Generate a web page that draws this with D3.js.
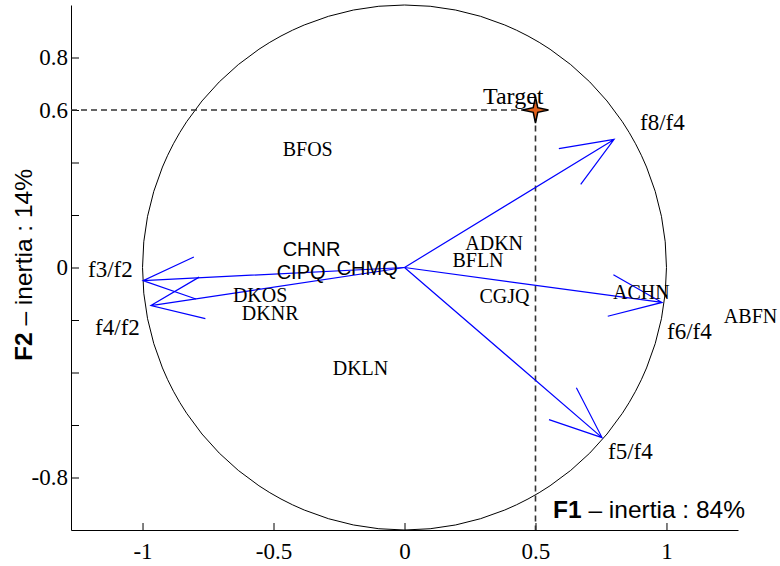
<!DOCTYPE html>
<html>
<head>
<meta charset="utf-8">
<script src="https://cdn.jsdelivr.net/npm/d3@7"></script>
<style>
  body { margin: 0; background: #fff; }
  svg { display: block; }
  .tick text { font-family: "Liberation Serif", "Times New Roman", serif; font-size: 23px; fill: #000; }
</style>
</head>
<body>
<script>
// variables of the correlation circle (arrow tips) and where their names sit
const varNames = ["f8/f4", "f6/f4", "f5/f4", "f3/f2", "f4/f2"];
const varF1 = [0.800, 0.983, 0.754, -0.998, -0.968];
const varF2 = [0.488, -0.133, -0.648, -0.050, -0.145];
const varLabelF1 = [0.899, 1.002, 0.777, -1.208, -1.181];
const varLabelF2 = [0.552, -0.244, -0.701, -0.008, -0.229];

// individuals, written as text
const indNames = ["BFOS", "CHNR", "CIPQ", "CHMQ", "DKOS", "DKNR", "DKLN", "ADKN", "BFLN", "CGJQ", "ACHN", "ABFN"];
const indF1 = [-0.465, -0.465, -0.488, -0.259, -0.655, -0.621, -0.274, 0.232, 0.183, 0.286, 0.796, 1.219];
const indF2 = [0.453, 0.069, -0.019, 0.000, -0.103, -0.175, -0.381, 0.095, 0.030, -0.107, -0.095, -0.183];
const sansNames = ["CHNR", "CIPQ", "CHMQ"];

// target point
const target = { name: "Target", f1: 0.5, f2: 0.6, labelF1: 0.415, labelF2: 0.655 };

const xTicks = [-1, -0.5, 0, 0.5, 1];
const yTicks = [-0.8, -0.6, -0.4, -0.2, 0, 0.2, 0.4, 0.6, 0.8];
const yTickLabels = [-0.8, 0, 0.6, 0.8];

let margin = { top: 5, right: 42, bottom: 36, left: 71 };
let width = 780 - margin.left - margin.right;
let height = 566 - margin.top - margin.bottom;

let x = d3.scaleLinear().domain([-1.273, 1.273]).range([0, width]);
let y = d3.scaleLinear().domain([-1, 1]).range([height, 0]);

let svg = d3.select("body").append("svg")
  .attr("width", 780)
  .attr("height", 566);

let g = svg.append("g")
  .attr("transform", "translate(" + margin.left + "," + margin.top + ")");

// axes, ticks pointing inward
g.append("g")
  .attr("transform", "translate(0," + height + ")")
  .call(d3.axisBottom(x).tickValues(xTicks).tickSizeInner(-7).tickSizeOuter(0).tickPadding(13)
    .tickFormat(d3.format("")));

g.append("g")
  .call(d3.axisLeft(y).tickValues(yTicks).tickSizeInner(-8).tickSizeOuter(0).tickPadding(3)
    .tickFormat(function (d) {
      return yTickLabels.some(function (v) { return Math.abs(v - d) < 1e-9; }) ? d3.format("")(+d.toFixed(1)) : "";
    }));

g.selectAll(".domain, .tick line").attr("stroke", "#000").attr("stroke-width", 1);
g.selectAll(".tick text").attr("font-family", null).attr("font-size", null)
  .text(function () { return this.textContent.replace("\u2212", "-"); });

// unit circle
g.append("ellipse")
  .attr("cx", x(0)).attr("cy", y(0))
  .attr("rx", x(1) - x(0)).attr("ry", y(0) - y(1))
  .attr("fill", "none").attr("stroke", "#000").attr("stroke-width", 1);

// dashed guides to target
g.append("path")
  .attr("d", d3.line()([[0, y(target.f2)], [x(target.f1), y(target.f2)], [x(target.f1), height]]))
  .attr("fill", "none").attr("stroke", "#333").attr("stroke-width", 1.6)
  .attr("stroke-dasharray", "6,4");

// arrows
const headLen = 56, headAng = 22 * Math.PI / 180;
varNames.forEach(function (name, i) {
  let tx = x(varF1[i]), ty = y(varF2[i]);
  let ox = x(0), oy = y(0);
  let a = Math.atan2(oy - ty, ox - tx);
  let b1 = [tx + headLen * Math.cos(a + headAng), ty + headLen * Math.sin(a + headAng)];
  let b2 = [tx + headLen * Math.cos(a - headAng), ty + headLen * Math.sin(a - headAng)];
  g.append("path")
    .attr("d", d3.line()([[ox, oy], [tx, ty]]) + d3.line()([b1, [tx, ty], b2]))
    .attr("fill", "none").attr("stroke", "#0000ff").attr("stroke-width", 1.2);
  g.append("text")
    .attr("x", x(varLabelF1[i])).attr("y", y(varLabelF2[i]))
    .attr("dominant-baseline", "central")
    .attr("font-family", "Liberation Serif, Times New Roman, serif")
    .attr("font-size", 23)
    .text(name);
});

// individuals
indNames.forEach(function (name, i) {
  let sans = sansNames.indexOf(name) >= 0;
  g.append("text")
    .attr("x", x(indF1[i])).attr("y", y(indF2[i]))
    .attr("dominant-baseline", "central")
    .attr("font-family", sans ? "Liberation Sans, Arial, sans-serif" : "Liberation Serif, Times New Roman, serif")
    .attr("font-size", 20)
    .text(name);
});

// target star
let starPts = d3.range(8).map(function (k) {
  return [k * Math.PI / 4, k % 2 === 0 ? 13 : 3.2];
});
g.append("path")
  .attr("transform", "translate(" + x(target.f1) + "," + y(target.f2) + ")")
  .attr("d", d3.lineRadial().curve(d3.curveLinearClosed)(starPts))
  .attr("fill", "#e0601a").attr("stroke", "#000").attr("stroke-width", 1.5);

g.append("text")
  .attr("x", x(target.labelF1)).attr("y", y(target.labelF2))
  .attr("text-anchor", "middle")
  .attr("dominant-baseline", "central")
  .attr("font-family", "Liberation Serif, Times New Roman, serif")
  .attr("font-size", 24)
  .text(target.name);

// axis titles
let t1 = svg.append("text")
  .attr("x", 553).attr("y", 518)
  .attr("font-family", "Liberation Sans, Arial, sans-serif")
  .attr("font-size", 24.5);
t1.append("tspan").attr("font-weight", "bold").text("F1");
t1.append("tspan").text(" \u2013 inertia : 84%");

let t2 = svg.append("text")
  .attr("transform", "translate(32,265) rotate(-90)")
  .attr("text-anchor", "middle")
  .attr("font-family", "Liberation Sans, Arial, sans-serif")
  .attr("font-size", 24.5);
t2.append("tspan").attr("font-weight", "bold").text("F2");
t2.append("tspan").text(" \u2013 inertia : 14%");
</script>
</body>
</html>
